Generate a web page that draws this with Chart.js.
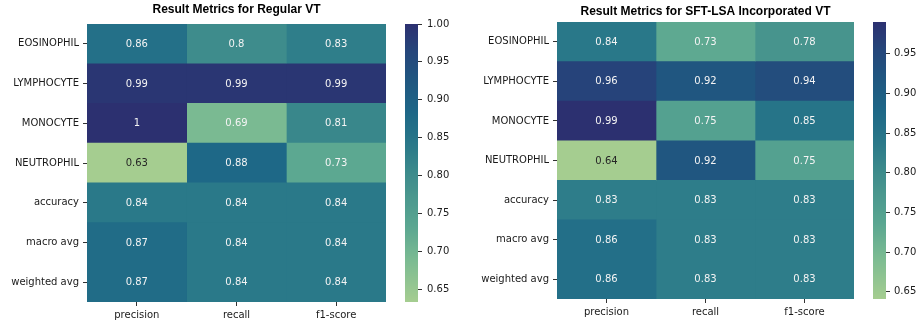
<!DOCTYPE html>
<html>
<head>
<meta charset="utf-8">
<script src="https://cdn.jsdelivr.net/npm/chart.js@4.4.1/dist/chart.umd.min.js"></script>
<style>
  html, body { margin: 0; padding: 0; background: #ffffff; }
  body { width: 919px; height: 325px; position: relative; overflow: hidden; }
  canvas { position: absolute; top: 0; }
</style>
</head>
<body>
<canvas id="heatL" width="400" height="325" style="left:0px"></canvas>
<canvas id="barL" width="60" height="325" style="left:395px"></canvas>
<canvas id="heatR" width="410" height="325" style="left:460px"></canvas>
<canvas id="barR" width="54" height="325" style="left:865px"></canvas>
<script>
// Classification report rows and metric columns
const rowLabels = ['EOSINOPHIL', 'LYMPHOCYTE', 'MONOCYTE', 'NEUTROPHIL', 'accuracy', 'macro avg', 'weighted avg'];
const metricLabels = ['precision', 'recall', 'f1-score'];

// Regular VT: one array per row, [precision, recall, f1-score]
const regularEosinophil = [0.86, 0.80, 0.83];
const regularLymphocyte = [0.99, 0.99, 0.99];
const regularMonocyte   = [1.00, 0.69, 0.81];
const regularNeutrophil = [0.633, 0.88, 0.73];
const regularAccuracy   = [0.84, 0.84, 0.84];
const regularMacroAvg   = [0.87, 0.84, 0.84];
const regularWeighted   = [0.87, 0.84, 0.84];

// SFT-LSA incorporated VT
const sftEosinophil = [0.84, 0.73, 0.78];
const sftLymphocyte = [0.96, 0.92, 0.94];
const sftMonocyte   = [0.99, 0.75, 0.85];
const sftNeutrophil = [0.641, 0.92, 0.75];
const sftAccuracy   = [0.83, 0.83, 0.83];
const sftMacroAvg   = [0.86, 0.83, 0.83];
const sftWeighted   = [0.86, 0.83, 0.83];

// Colour bar tick labels
const colorbarTicksRegular = [0.65, 0.70, 0.75, 0.80, 0.85, 0.90, 0.95, 1.00];
const colorbarTicksSft     = [0.65, 0.70, 0.75, 0.80, 0.85, 0.90, 0.95];

const regularValues = [regularEosinophil, regularLymphocyte, regularMonocyte, regularNeutrophil,
                       regularAccuracy, regularMacroAvg, regularWeighted];
const sftValues = [sftEosinophil, sftLymphocyte, sftMonocyte, sftNeutrophil,
                   sftAccuracy, sftMacroAvg, sftWeighted];

// "crest"-style sequential colour ramp (light green -> teal -> navy)
const crestStops = [
  [0.000, 165, 205, 144],
  [0.155, 122, 186, 146],
  [0.264,  92, 168, 145],
  [0.455,  62, 140, 140],
  [0.564,  42, 121, 137],
  [0.673,  30, 104, 135],
  [0.800,  32,  86, 128],
  [0.910,  38,  68, 122],
  [1.000,  44,  48, 112]
];
function crestRGB(t) {
  t = Math.max(0, Math.min(1, t));
  for (let i = 1; i < crestStops.length; i++) {
    const a = crestStops[i - 1], b = crestStops[i];
    if (t <= b[0]) {
      const f = (t - a[0]) / (b[0] - a[0]);
      return [0, 1, 2].map(k => Math.round(a[k + 1] + (b[k + 1] - a[k + 1]) * f));
    }
  }
  const l = crestStops[crestStops.length - 1];
  return [l[1], l[2], l[3]];
}
function rgbStr(c) { return `rgb(${c[0]},${c[1]},${c[2]})`; }
function luminance(c) {
  const lin = c.map(v => { v /= 255; return v <= 0.03928 ? v / 12.92 : Math.pow((v + 0.055) / 1.055, 2.4); });
  return 0.2126 * lin[0] + 0.7152 * lin[1] + 0.0722 * lin[2];
}
function fmt2g(v) { return String(Number(v.toPrecision(2))); }

Chart.defaults.font.family = '"DejaVu Sans", Verdana, sans-serif';
Chart.defaults.font.size = 10;
Chart.defaults.color = '#1a1a1a';
Chart.defaults.animation = false;
Chart.defaults.events = [];
Chart.defaults.plugins.legend.display = false;
Chart.defaults.plugins.tooltip.enabled = false;

// Panel title, centred above the plot area
const panelTitle = {
  id: 'panelTitle',
  afterDraw(chart, args, opts) {
    const { ctx, chartArea } = chart;
    ctx.save();
    ctx.font = 'bold 12px "Liberation Sans", Arial, sans-serif';
    ctx.fillStyle = '#000000';
    ctx.textAlign = 'center';
    ctx.textBaseline = 'middle';
    ctx.fillText(opts.text, (chartArea.left + chartArea.right) / 2, opts.y);
    ctx.restore();
  }
};

// Value annotation in the middle of every cell
const cellLabels = {
  id: 'cellLabels',
  afterDatasetsDraw(chart, args, opts) {
    const { ctx } = chart;
    ctx.save();
    ctx.font = '10px "DejaVu Sans", Verdana, sans-serif';
    ctx.textAlign = 'center';
    ctx.textBaseline = 'middle';
    chart.data.datasets.forEach((ds, di) => {
      const meta = chart.getDatasetMeta(di);
      meta.data.forEach((el, i) => {
        const v = ds.data[i].v;
        const c = crestRGB((v - opts.vmin) / (opts.vmax - opts.vmin));
        ctx.fillStyle = luminance(c) > 0.45 ? '#262626' : '#f4f4f4';
        const p = el.getCenterPoint();
        ctx.fillText(fmt2g(v), p.x, p.y + 0.5);
      });
    });
    ctx.restore();
  }
};

const tickGrid = { drawOnChartArea: false, drawTicks: true, tickLength: 4, color: '#333333', lineWidth: 1, offset: false };

function makeHeatmap(id, title, titleY, values, yWidth, xHeight, padding) {
  const flat = values.flat();
  const vmin = Math.min(...flat), vmax = Math.max(...flat);
  const datasets = metricLabels.map((m, ci) => ({
    label: m,
    grouped: false,
    barPercentage: 1,
    categoryPercentage: 1,
    borderWidth: 0,
    data: rowLabels.map((r, ri) => ({ x: [ci, ci + 1], y: r, v: values[ri][ci] })),
    backgroundColor: (ctx) => {
      const raw = ctx.raw;
      if (!raw) return '#ffffff';
      return rgbStr(crestRGB((raw.v - vmin) / (vmax - vmin)));
    }
  }));
  new Chart(document.getElementById(id), {
    type: 'bar',
    data: { labels: rowLabels, datasets },
    options: {
      responsive: false,
      indexAxis: 'y',
      layout: { padding },
      scales: {
        x: {
          type: 'linear', min: 0, max: 3,
          afterBuildTicks: (s) => { s.ticks = metricLabels.map((m, i) => ({ value: i + 0.5 })); },
          afterFit: (s) => { s.height = xHeight; },
          ticks: { autoSkip: false, maxRotation: 0, padding: 3, callback: (v, i) => metricLabels[i] },
          grid: tickGrid,
          border: { display: false }
        },
        y: {
          type: 'category',
          afterFit: (s) => { s.width = yWidth; },
          ticks: { autoSkip: false, padding: 4 },
          grid: tickGrid,
          border: { display: false }
        }
      },
      plugins: {
        panelTitle: { text: title, y: titleY },
        cellLabels: { vmin, vmax }
      }
    },
    plugins: [panelTitle, cellLabels]
  });
  return { vmin, vmax };
}

function makeColorbar(id, range, tickValues, yWidth, labelPad, padding) {
  const { vmin, vmax } = range;
  new Chart(document.getElementById(id), {
    type: 'bar',
    data: {
      labels: [''],
      datasets: [{
        data: [[vmin, vmax]],
        barPercentage: 1,
        categoryPercentage: 1,
        borderWidth: 0,
        backgroundColor: (ctx) => {
          const area = ctx.chart.chartArea;
          if (!area) return '#ffffff';
          const g = ctx.chart.ctx.createLinearGradient(0, area.bottom, 0, area.top);
          for (let i = 0; i <= 40; i++) g.addColorStop(i / 40, rgbStr(crestRGB(i / 40)));
          return g;
        }
      }]
    },
    options: {
      responsive: false,
      layout: { padding },
      scales: {
        x: { display: false },
        y: {
          position: 'right', min: vmin, max: vmax,
          afterBuildTicks: (s) => { s.ticks = tickValues.filter(v => v >= vmin && v <= vmax).map(v => ({ value: v })); },
          afterFit: (s) => { s.width = yWidth; },
          ticks: { padding: labelPad, callback: (v) => Number(v).toFixed(2) },
          grid: { drawOnChartArea: false, drawTicks: true, tickLength: 4, color: '#333333', lineWidth: 1 },
          border: { display: false }
        }
      }
    }
  });
}

const rangeL = makeHeatmap('heatL', 'Result Metrics for Regular VT', 9.5, regularValues, 87, 23,
  { left: 0, right: 14, top: 24, bottom: 0 });
const rangeR = makeHeatmap('heatR', 'Result Metrics for SFT-LSA Incorporated VT', 12, sftValues, 97, 26,
  { left: 0, right: 16, top: 22, bottom: 0 });
makeColorbar('barL', rangeL, colorbarTicksRegular, 37, 5, { left: 10, right: 0, top: 24, bottom: 23 });
makeColorbar('barR', rangeR, colorbarTicksSft, 33, 4, { left: 8, right: 0, top: 22, bottom: 26 });
</script>
</body>
</html>
